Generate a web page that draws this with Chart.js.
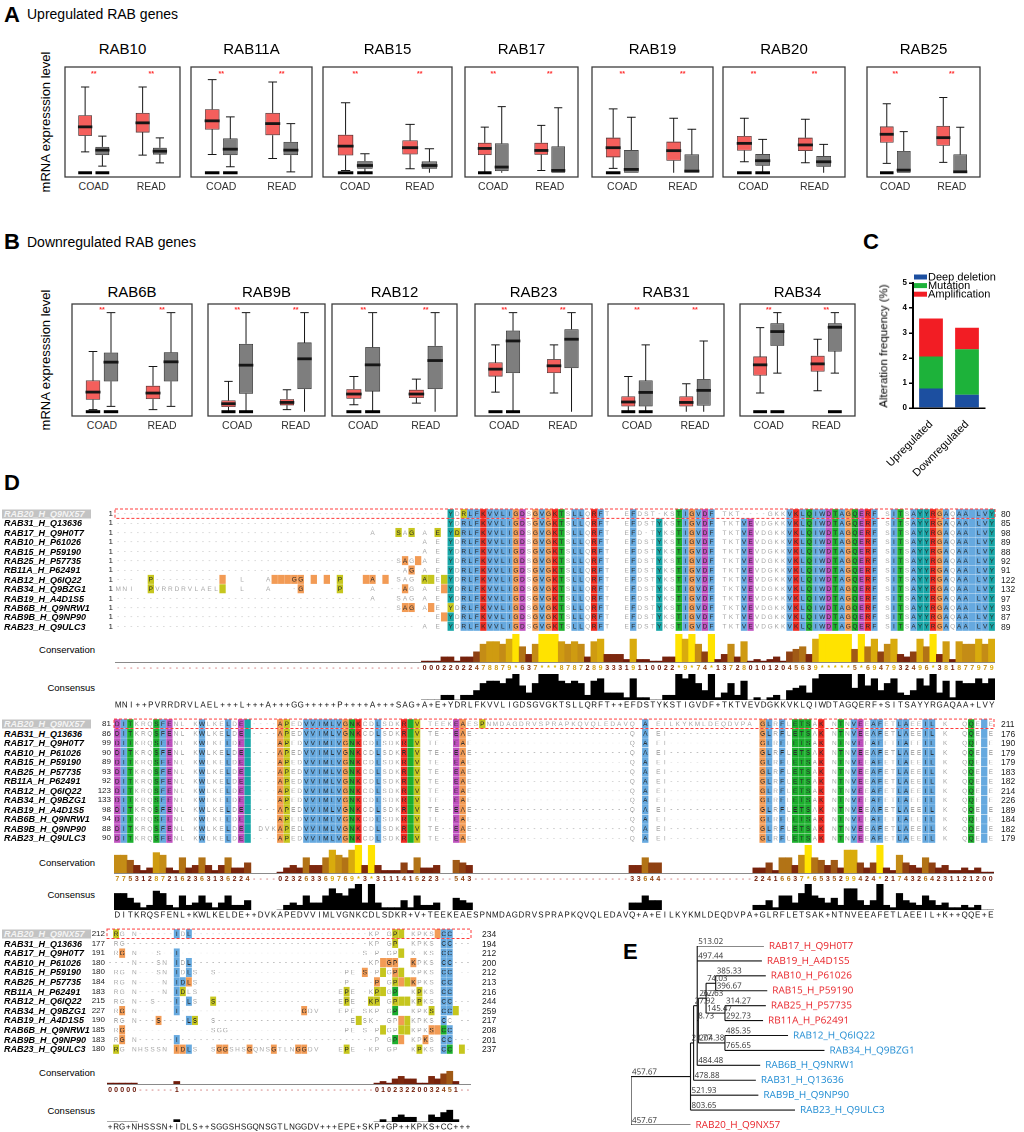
<!DOCTYPE html>
<html>
<head>
<meta charset="utf-8">
<title>RAB genes</title>
<script src="https://cdn.jsdelivr.net/npm/chart.js@4.4.1/dist/chart.umd.min.js"></script>
<style>
html,body{margin:0;padding:0;background:#fff;}
#page{position:relative;width:1024px;height:1132px;overflow:hidden;background:#fff;}
#page canvas{position:absolute;}
</style>
</head>
<body>
<div id="page"></div>
<script>
// ================= DATA =================
const cohorts = ["COAD", "READ"];

// Panel A (values in % of panel height above zero line): [low, q1, median, q3, high]
const upGenes = ["RAB10", "RAB11A", "RAB15", "RAB17", "RAB19", "RAB20", "RAB25"];
const upTumorCOAD = [
  [19.8, 34.9, 43.4, 54.4, 81.1], [17.3, 40.9, 49.1, 60.1, 88.1], [2.2, 16.4, 25.2, 36.0, 66.2],
  [0, 16.7, 23.0, 28.4, 43.2], [4.1, 14.6, 23.7, 33.2, 60.4], [10.4, 20.9, 27.8, 34.8, 51.6],
  [8.9, 28.5, 36.4, 43.7, 65.2]];
const upNormalCOAD = [
  [6.3, 16.7, 21.4, 24.5, 34.6], [5.7, 16.7, 22.3, 32.4, 52.8], [0, 3.8, 6.9, 11.0, 18.0],
  [0, 1.6, 5.4, 27.8, 62.5], [0, 0, 3.2, 21.5, 52.5], [0, 6.6, 11.4, 17.7, 31.6],
  [0, 0, 2.5, 20.6, 38.9]];
const upTumorREAD = [
  [16.7, 38.1, 47.2, 56.6, 81.1], [13.5, 35.5, 46.5, 56.6, 85.8], [3.8, 17.4, 23.7, 30.6, 45.7],
  [2.2, 17.0, 21.1, 28.4, 44.8], [0, 11.4, 20.9, 29.4, 51.6], [9.5, 20.6, 26.3, 33.2, 50.6],
  [9.8, 25.6, 33.2, 44.3, 71.2]];
const upNormalREAD = [
  [9.4, 17.3, 20.4, 23.6, 33.0], [0.9, 16.7, 21.4, 29.2, 46.5], [0, 3.8, 6.9, 10.7, 22.7],
  [0, 0, 2.2, 24.9, 61.5], [0, 0, 1.6, 17.4, 41.1], [0, 5.7, 10.4, 15.8, 26.9],
  [0, 0, 0.9, 17.4, 43.0]];
const upZeroBars = [[1,1,0,0],[1,1,0,0],[1,1,0,0],[1,0,0,0],[1,0,0,0],[1,1,0,0],[1,0,0,0]];

// Panel B
const downGenes = ["RAB6B", "RAB9B", "RAB12", "RAB23", "RAB31", "RAB34"];
const downTumorCOAD = [
  [1.9, 11.1, 18.2, 29.0, 55.9], [0.3, 4.3, 7.4, 10.5, 28.1], [6.5, 12.0, 16.4, 21.0, 32.7],
  [18.2, 32.7, 39.5, 45.7, 62.0], [0, 4.9, 9.0, 14.2, 32.7], [17.3, 33.6, 43.5, 51.2, 78.1]];
const downNormalCOAD = [
  [4.9, 28.1, 46.0, 54.9, 92.0], [0, 16.7, 43.2, 63.0, 92.0], [0, 18.8, 43.5, 59.9, 92.0],
  [0, 35.8, 65.7, 75.3, 92.0], [0, 4.9, 17.9, 29.0, 62.0], [35.8, 61.1, 74.4, 82.1, 92.0]];
const downTumorREAD = [
  [1.9, 11.7, 17.3, 24.1, 42.0], [1.9, 5.9, 8.6, 11.7, 20.4], [8.0, 12.7, 16.4, 20.4, 30.2],
  [17.3, 35.8, 42.6, 48.8, 62.0], [0, 4.9, 8.6, 14.2, 25.9], [19.4, 37.3, 44.4, 51.9, 67.3]];
const downNormalREAD = [
  [4.9, 28.1, 46.3, 55.2, 92.0], [0, 21.0, 49.1, 64.2, 92.0], [0, 21.0, 47.5, 61.1, 92.0],
  [0, 40.4, 67.3, 76.5, 92.0], [0, 5.6, 19.8, 30.2, 65.7], [35.8, 55.9, 78.4, 82.1, 92.0]];
const downZeroBars = [[1,1,0,0],[1,1,0,0],[1,1,0,0],[1,1,0,0],[1,1,0,0],[1,1,0,1]];

// Panel C
const altCategories = ["Upregulated", "Downregulated"];
const deepDeletion = [0.78, 0.53];
const mutation = [1.28, 1.82];
const amplification = [1.52, 0.86];

// Panel D
const seqNames = ["RAB20_H_Q9NX57","RAB31_H_Q13636","RAB17_H_Q9H0T7","RAB10_H_P61026","RAB15_H_P59190",
  "RAB25_H_P57735","RB11A_H_P62491","RAB12_H_Q6IQ22","RAB34_H_Q9BZG1","RAB19_H_A4D1S5",
  "RAB6B_H_Q9NRW1","RAB9B_H_Q9NP90","RAB23_H_Q9ULC3"];
const block1Start = [1,1,1,1,1,1,1,1,1,1,1,1,1];
const block1End = [80,85,98,89,88,92,91,122,132,97,93,87,89];
const block2Start = [81,86,99,90,89,93,92,123,133,98,94,88,90];
const block2End = [211,176,190,179,179,183,182,214,226,189,184,182,179];
const block3Start = [212,177,191,180,180,184,183,215,227,190,185,183,180];
const block3End = [234,194,212,200,212,213,216,244,259,217,208,201,237];

const consensus1 = "MNI++PVRRDRVLAEL+++L+++A+++GG+++++P++++A+++SAG+A+E+YDRLFKVVLIGDSGVGKTSLLQRFT++EFDSTYKSTIGVDF+TKTVEVDGKKVKLQIWDTAGQERF+SITSAYYRGAQAA+LVY";
const consensus2 = "DITKRQSFENL+KWLKELDE++DVKAPEDVVIMLVGNKCDLSDKR+V+TEEKEAESPNMDAGDRVSPRAPKQVQLEDAVQ+A+EILKYKMLDEQDVPA+GLRFLETSAK+NTNVEEAFETLAEEIL+K++QQE+E";
const consensus3 = "+RG+NHSSSN+IDLS++SGGSHSGQNSGTLNGGDV+++EPE+SKP+GP++KPKS+CC+++";

const conservation1 = "-47|00022022478879*637***878728933319110022*9*74*1372801012045639*****5*6947932496*381877979";
const conservation2 = "775312872162363136224|-4|023263369769*3*3111416223|-2|543|-24|33644|-14|22416637*6535299424*21743264231121200";
const conservation3 = "00000|-6|1|-32|01023220032451|-2";

// column colour classes (b blue, r red, g green, o orange, y olive, m magenta, c cyan, . none)
const block1ColumnColors = ".........." + ".........." + ".........." + ".........." + ".........." +
  ".c.bbbrbbb" + "bom.oborg." + "bb.rb....b" + "...c..gbob" + "mb....bm.." + "...brbgbbm" +
  "gbogmrb..b" + "g.bccrob.b" + "bbbbc";
const block1RowFirstCol = [50,50,36,46,47,43,44,3,0,38,42,48,46];
const block1RowGaps = [[83,96,97,98,99],[],[81],[],[],[],[],[6,7,8,9,10,11,12,13,14,15],[27,42,43],[],[],[],[]];
const block1RowExtras = [
  [0,53,"y"],[2,43,"y"],[2,45,"y"],[2,49,"y"],[2,52,"y"],[5,44,"o"],[5,46,"o"],[6,45,"o"],
  [7,5,"y"],[7,16,"o"],[7,24,"o"],[7,25,"o"],[7,26,"o"],[7,27,"o"],[7,28,"o"],[7,30,"o"],[7,32,"o"],
  [7,34,"y"],[7,38,"o"],[7,39,"o"],[7,41,"o"],[7,47,"y"],[7,48,"y"],[7,50,"y"],
  [8,5,"y"],[8,16,"y"],[8,28,"o"],[8,34,"y"],[8,44,"o"],[8,50,"o"],
  [10,44,"o"],[10,45,"o"],[10,48,"o"],[10,51,"y"],[11,50,"o"]];

const block2ColumnColors = "mbg...gbm." + "...b...b.m" + "c....oy..b" + "bbbbbogr.." + "b...rgy..." +
  "..mo..y..." + ".........." + ".........." + ".b........" + ".........o" + "b.b.ggg.r." +
  ".g.bm.bb.." + "bb..bb...." + ".g.b.";
const block2GenericRanges = [[0,20],[25,49],[52,54],[79,84],[98,134]];
const block2RowRanges = [[[0,20],[25,134]], block2GenericRanges, block2GenericRanges, block2GenericRanges,
  block2GenericRanges, block2GenericRanges, block2GenericRanges, block2GenericRanges, block2GenericRanges,
  block2GenericRanges, block2GenericRanges, [[0,49],[52,54],[79,84],[98,134]], block2GenericRanges];

const block3Rows = [
  "xyxxx|-6|bxb|-29|xxxxyyxxxxxobbx|-2",
  "xxx|-38|x-xxxxyxxxxxxxbb|-3",
  "xxoxx|-3|x|-2|b|-30|x-xxxxyxx-xxxbbxx|-1",
  "-4|x|-3|xxxbxb|-29|xxoooxxoxxxxbb|-3",
  "xxxxx|-3|xxxbxbxxxx|-21|xxxo-xyxoyxxxxxxbbx|-2",
  "xxxxx|-4|xxbboxxx|-22|x|-4|oxxyoyoxxxxbbxxx",
  "xxxxx|-4|xxbyxxxx|-21|xyxx-xyyxgxxxyxxxbbxxx",
  "xxxxx|-2|x|-3|b|-1|bxxxy|-20|xyxx-yyxxyyyxyxxxbb|-3",
  "xxoxx|-5|xb|-20|oxxxxxxxxxxxxxxgxxxxxyxbby|-2",
  "xxxxx|-3|o|-4|byxxx|-22|xyxx-xxxoyxxxxxbxx|-2",
  "xxo|-14|xxx|-19|xxxx-xyxxyyxxxoogbx|-2",
  "xxoxx|-6|b|-32|xxxgoxxxoxxbb|-3",
  "xyxxxxxxxxxoobxxxxooxxxoxxxoxxxooxxxxxxyxx|-1|xxxxxxxxyxxxbgxy|-1"];

// Panel E tree
const treeLeaves = ["RAB17_H_Q9H0T7","RAB19_H_A4D1S5","RAB10_H_P61026","RAB15_H_P59190","RAB25_H_P57735",
  "RB11A_H_P62491","RAB12_H_Q6IQ22","RAB34_H_Q9BZG1","RAB6B_H_Q9NRW1","RAB31_H_Q13636",
  "RAB9B_H_Q9NP90","RAB23_H_Q9ULC3","RAB20_H_Q9NX57"];
const leafLength = [513.02,497.44,385.33,396.67,314.27,292.73,485.35,765.65,484.48,478.88,521.93,803.65,457.67];
const leafParent = ["N3","N3","N7","N7","N8","N8","N5","N5","N3","N2","N1","N1","N0"];
const leafGroup = ["up","up","up","up","up","up","down","down","down","down","down","down","up"];
const treeNodes = ["N1","N2","N3","N4","N5","N6","N6b","N7","N8"];
const nodeLength = [457.67,23.77,27.92,8.73,204.38,26.7,32.63,74.03,145.47];
const nodeParent = ["N0","N1","N2","N3","N4","N4","N6","N6b","N6b"];

// ================= RENDERING =================
const SANS = '"Liberation Sans", Arial, Helvetica, sans-serif';
const NARROW = '"Liberation Sans Narrow", "Liberation Sans", Arial, sans-serif';
const OPEN = '"Open Sans", "Liberation Sans", sans-serif';
const page = document.getElementById('page');

function T(str, x, y, o) {
  o = o || {};
  const d = document.createElement('div');
  d.textContent = str;
  d.style.cssText = 'position:absolute;white-space:nowrap;line-height:1;left:' + x + 'px;top:' + y + 'px;' +
    'font-family:' + (o.family || SANS) + ';font-size:' + (o.size || 10) + 'px;color:' + (o.color || '#000') +
    ';font-weight:' + (o.weight || 'normal') + ';font-style:' + (o.style || 'normal') + ';';
  const ax = o.anchor === 'c' ? '-50%' : (o.anchor === 'r' ? '-100%' : '0');
  d.style.transform = 'translate(' + ax + ',-50%)' + (o.rot ? ' rotate(' + o.rot + 'deg)' : '');
  if (o.bg) { d.style.background = o.bg; d.style.padding = o.pad || '0'; }
  page.appendChild(d);
  return d;
}
function mkCanvas(x, y, w, h) {
  const c = document.createElement('canvas');
  c.width = w; c.height = h;
  c.style.left = x + 'px'; c.style.top = y + 'px';
  c.style.width = w + 'px'; c.style.height = h + 'px';
  page.appendChild(c);
  return c;
}
const BASE = { responsive: false, animation: false, devicePixelRatio: 2, events: [],
  plugins: { legend: { display: false }, tooltip: { enabled: false }, title: { display: false } } };
function rle(s) { return s.split('|').map(t => /^-\d+$/.test(t) ? '-'.repeat(+t.slice(1)) : t).join(''); }
function fit(s, n, ch) { return s.padEnd(n, ch).slice(0, n); }

// ---------- headings ----------
T('A', 4, 15, { size: 22, weight: 'bold' });
T('Upregulated RAB genes', 27, 14, { size: 14 });
T('B', 4, 242, { size: 22, weight: 'bold' });
T('Downregulated RAB genes', 27, 242, { size: 14 });
T('C', 863, 242, { size: 22, weight: 'bold' });
T('D', 4, 483, { size: 22, weight: 'bold' });
T('E', 623, 952, { size: 22, weight: 'bold' });
T('mRNA expresssion level', 45, 122, { size: 13, anchor: 'c', rot: -90 });
T('mRNA expresssion level', 45, 360, { size: 13, anchor: 'c', rot: -90 });

// ---------- box plots ----------
const boxPlugin = {
  id: 'boxExtras',
  afterDatasetsDraw(chart) {
    const ctx = chart.ctx, ys = chart.scales.y, a = chart.chartArea;
    const py = v => ys.getPixelForValue(v);
    ctx.save();
    chart.data.datasets.forEach((ds, di) => {
      chart.getDatasetMeta(di).data.forEach((el, i) => {
        const s = ds.stats[i], x = el.x, w = el.width;
        ctx.strokeStyle = '#161616'; ctx.lineWidth = 1;
        ctx.beginPath();
        ctx.moveTo(x, py(s[3])); ctx.lineTo(x, py(s[4]));
        ctx.moveTo(x, py(s[1])); ctx.lineTo(x, py(s[0]));
        ctx.moveTo(x - w * 0.3, py(s[4])); ctx.lineTo(x + w * 0.3, py(s[4]));
        if (s[0] > 0) { ctx.moveTo(x - w * 0.3, py(s[0])); ctx.lineTo(x + w * 0.3, py(s[0])); }
        ctx.stroke();
        ctx.lineWidth = 2.8;
        ctx.beginPath(); ctx.moveTo(x - w * 0.52, py(s[2])); ctx.lineTo(x + w * 0.52, py(s[2])); ctx.stroke();
        if (ds.zeroBar[i]) { ctx.fillStyle = '#000'; ctx.fillRect(x - w / 2, py(0) - 1.5, w, 3); }
      });
    });
    ctx.strokeStyle = '#3c3c3c'; ctx.lineWidth = 1.3;
    ctx.strokeRect(a.left, a.top, a.right - a.left, a.bottom - a.top);
    ctx.restore();
  }
};
function boxPanel(gene, l, r, top, bot, tC, nC, tR, nR, zeros, titleY, labelY, starY) {
  const pad = 2, w = r - l, h = bot - top;
  const c = mkCanvas(l - pad, top - pad, w + 2 * pad, h + 2 * pad);
  const common = { borderWidth: 0.8, borderSkipped: false, categoryPercentage: 0.6, barPercentage: 0.8 };
  new Chart(c, {
    type: 'bar',
    data: { labels: cohorts, datasets: [
      Object.assign({ data: [[tC[1], tC[3]], [tR[1], tR[3]]], stats: [tC, tR], zeroBar: [zeros[0], zeros[2]],
        backgroundColor: '#f45f5c', borderColor: '#4a3030' }, common),
      Object.assign({ data: [[nC[1], nC[3]], [nR[1], nR[3]]], stats: [nC, nR], zeroBar: [zeros[1], zeros[3]],
        backgroundColor: '#7e7e7e', borderColor: '#2e2e2e' }, common)
    ] },
    options: Object.assign({}, BASE, { layout: { padding: pad },
      scales: { x: { display: false }, y: { display: false, min: -4, max: 100 } } }),
    plugins: [boxPlugin]
  });
  T(gene, l + w / 2, titleY, { size: 15, anchor: 'c' });
  cohorts.forEach((lab, i) => {
    const x = l + w * (0.25 + 0.5 * i);
    T(lab, x, labelY, { size: 10.5, anchor: 'c', family: NARROW, color: '#333' });
    T('**', x, starY, { size: 7, anchor: 'c', color: '#ff2d2d', weight: 'bold' });
  });
}
const upFrames = [[65,180],[191,312],[323,452],[465,578],[592,713],[723,845],[867,980]];
upGenes.forEach((g, i) => boxPanel(g, upFrames[i][0], upFrames[i][1], 67, 177,
  upTumorCOAD[i], upNormalCOAD[i], upTumorREAD[i], upNormalREAD[i], upZeroBars[i], 48, 186, 73));
const downFrames = [[72,192],[208,325],[332,457],[475,592],[608,724],[740,855]];
downGenes.forEach((g, i) => boxPanel(g, downFrames[i][0], downFrames[i][1], 304, 416,
  downTumorCOAD[i], downNormalCOAD[i], downTumorREAD[i], downNormalREAD[i], downZeroBars[i], 291, 425, 309));

// ---------- panel C ----------
const legendPlugin = {
  id: 'altLegend',
  afterDraw(chart) {
    const ctx = chart.ctx, a = chart.chartArea;
    ctx.save(); ctx.font = '11px ' + SANS; ctx.textBaseline = 'middle';
    chart.data.datasets.forEach((ds, i) => {
      const y = a.top - 6 + i * 8.6;
      ctx.fillStyle = ds.backgroundColor; ctx.fillRect(a.left + 1, y - 2.5, 13, 5);
      ctx.fillStyle = '#000'; ctx.fillText(ds.label, a.left + 15, y + 0.5);
    });
    ctx.restore();
  }
};
new Chart(mkCanvas(860, 270, 140, 210), {
  type: 'bar',
  data: { labels: altCategories, datasets: [
    { label: 'Deep deletion', data: deepDeletion, backgroundColor: '#1c4fa0' },
    { label: 'Mutation', data: mutation, backgroundColor: '#1db23a' },
    { label: 'Amplification', data: amplification, backgroundColor: '#f21d24' }
  ].map(d => Object.assign(d, { barPercentage: 0.66, categoryPercentage: 1 })) },
  options: Object.assign({}, BASE, {
    layout: { padding: { top: 13, right: 15, left: 0, bottom: 0 } },
    scales: {
      x: { stacked: true, grid: { display: false }, border: { display: true, color: '#000', width: 1.5 },
        ticks: { color: '#000', font: { family: SANS, size: 11 }, minRotation: 45, maxRotation: 45, padding: 2, autoSkip: false },
        afterFit(s) { s.height = 72; } },
      y: { stacked: true, min: 0, max: 5, border: { display: true, color: '#000', width: 2 },
        grid: { drawOnChartArea: false, drawTicks: true, tickLength: 4, color: '#000', lineWidth: 1.5 },
        ticks: { stepSize: 1, color: '#000', font: { family: SANS, size: 8, weight: 'bold' }, padding: 2 },
        afterFit(s) { s.width = 53; } }
    }
  }),
  plugins: [legendPlugin]
});
T('Alteration frequency (%)', 884, 346, { size: 11.5, anchor: 'c', rot: -90 });

// ---------- panel D ----------
const CLR = { b: '#66a9df', r: '#ef2b22', g: '#1caf2d', o: '#f29b55', y: '#c6c61e', m: '#bf51bf', c: '#17a6a7' };
function consColor(v) {
  if (v >= 11) return '#ffe300';
  const stops = [[0, [105, 22, 8]], [3, [125, 40, 14]], [5, [160, 90, 22]], [7, [196, 140, 22]], [10, [228, 186, 8]]];
  for (let i = 0; i < stops.length - 1; i++) {
    const [v0, c0] = stops[i], [v1, c1] = stops[i + 1];
    if (v <= v1) { const t = (v - v0) / (v1 - v0);
      return 'rgb(' + c0.map((q, j) => Math.round(q + (c1[j] - q) * t)).join(',') + ')'; }
  }
  return 'rgb(228,186,8)';
}
function digitColor(ch) {
  if (ch === '-') return '#d07a7a';
  if (ch === '*') return '#d9b400';
  return consColor(+ch);
}
const blocks = [
  { x: 115, top: 509.3, rowH: 9.4, colW: 6.52, n: 135, consLabelY: 650, consBase: 662, consenLabelY: 688,
    consenBase: 700, leftNumX: 113, rightNumX: 1001, cons: consensus1, digits: conservation1,
    starts: block1Start, ends: block1End },
  { x: 114, top: 719.25, rowH: 9.5, colW: 6.52, n: 135, consLabelY: 863, consBase: 873, consenLabelY: 895,
    consenBase: 910, leftNumX: 111, rightNumX: 1001, cons: consensus2, digits: conservation2,
    starts: block2Start, ends: block2End },
  { x: 107, top: 929.2, rowH: 9.6, colW: 6.07, n: 60, consLabelY: 1073, consBase: 1084, consenLabelY: 1111,
    consenBase: 1122, leftNumX: 105, rightNumX: 482, cons: consensus3, digits: conservation3,
    starts: block3Start, ends: block3End }
];
const extras1 = {};
block1RowExtras.forEach(([r, k, c]) => { extras1[r + ':' + k] = c; });
const rows3 = block3Rows.map(s => fit(rle(s), 60, '-'));
blocks[0].hasRes = (r, k) => k >= block1RowFirstCol[r] && block1RowGaps[r].indexOf(k) < 0;
blocks[0].color = (r, k) => { const e = extras1[r + ':' + k]; if (e) return e; const c = block1ColumnColors[k]; return c === '.' ? null : c; };
blocks[1].hasRes = (r, k) => block2RowRanges[r].some(([a, b]) => k >= a && k <= b);
blocks[1].color = (r, k) => { const c = block2ColumnColors[k]; return c === '.' ? null : c; };
blocks[2].hasRes = (r, k) => rows3[r][k] !== '-';
blocks[2].color = (r, k) => { const c = rows3[r][k]; return (c === 'x' || c === '-') ? null : c; };

blocks.forEach((B, bi) => {
  const n = B.n, nr = seqNames.length, w = Math.round(n * B.colW), h = nr * B.rowH;
  const labels = Array.from({ length: n }, (_, i) => String(i));
  const cons = fit(B.cons, n, '+');
  // alignment cells
  const datasets = [];
  for (let r = 0; r < nr; r++) {
    const data = [], bg = [];
    for (let k = 0; k < n; k++) {
      const key = B.hasRes(r, k) ? B.color(r, k) : null;
      data.push(key ? [r - 0.48, r + 0.48] : null);
      bg.push(key ? CLR[key] : 'rgba(0,0,0,0)');
    }
    datasets.push({ data, backgroundColor: bg, grouped: false, barPercentage: 0.97, categoryPercentage: 1, borderWidth: 0 });
  }
  new Chart(mkCanvas(B.x - 2, B.top - 2, w + 4, h + 4), {
    type: 'bar', data: { labels, datasets },
    options: Object.assign({}, BASE, { layout: { padding: 2 },
      scales: { x: { display: false }, y: { display: false, min: -0.5, max: nr - 0.5, reverse: true } } }),
    plugins: [{ id: 'alnText', afterDatasetsDraw(chart) {
      const ctx = chart.ctx, xs = chart.scales.x, ys = chart.scales.y, a = chart.chartArea;
      ctx.save(); ctx.textAlign = 'center'; ctx.textBaseline = 'middle'; ctx.font = '6.5px ' + SANS;
      for (let r = 0; r < nr; r++) for (let k = 0; k < n; k++) {
        const x = xs.getPixelForValue(k), y = ys.getPixelForValue(r);
        if (!B.hasRes(r, k)) { ctx.fillStyle = '#b9b9b9'; ctx.fillText('-', x, y); }
        else { const L = cons[k]; if (L !== '+') { ctx.fillStyle = B.color(r, k) ? '#2b2b2b' : '#a6a6a6'; ctx.fillText(L, x, y + 0.5); } }
      }
      const y0 = ys.getPixelForValue(-0.5), y1 = ys.getPixelForValue(0.5);
      ctx.strokeStyle = '#ff3b3b'; ctx.lineWidth = 1; ctx.setLineDash([3, 2]);
      ctx.strokeRect(a.left, y0, a.right - a.left, y1 - y0);
      ctx.restore();
    } }]
  });
  // names & numbers
  seqNames.forEach((nm, r) => {
    const y = B.top + (r + 0.5) * B.rowH;
    if (r === 0) T(nm, 2, y, { size: 9, weight: 'bold', style: 'italic', color: '#f4f4f4', bg: '#c3c3c3', pad: '0 6px 0 2px' });
    else T(nm, 4, y, { size: 9, weight: 'bold', style: 'italic' });
    T(String(B.starts[r]), B.leftNumX, y, { size: 8, anchor: 'r', color: '#222' });
    T(String(B.ends[r]), B.rightNumX, y, { size: 8.5, color: '#222' });
  });
  T('Conservation', 95, B.consLabelY, { size: 9.5, anchor: 'r' });
  T('Consensus', 95, B.consenLabelY, { size: 9.5, anchor: 'r' });
  // conservation bars
  const dig = fit(rle(B.digits), n, '-');
  const vals = dig.split('').map(ch => ch === '-' ? null : (ch === '*' ? 11 : +ch));
  new Chart(mkCanvas(B.x, B.consBase - 28, w, 28 + 12), {
    type: 'bar',
    data: { labels, datasets: [{ data: vals.map(v => v === null ? null : Math.max(v, 0.35)),
      backgroundColor: vals.map(v => v === null ? 'rgba(0,0,0,0)' : consColor(v)),
      barPercentage: 1, categoryPercentage: 1, borderWidth: 0 }] },
    options: Object.assign({}, BASE, { layout: { padding: { bottom: 12 } },
      scales: { x: { display: false }, y: { display: false, min: 0, max: 11 } } }),
    plugins: [{ id: 'digits', afterDatasetsDraw(chart) {
      const ctx = chart.ctx, xs = chart.scales.x, a = chart.chartArea;
      ctx.save();
      ctx.strokeStyle = '#8a8a8a'; ctx.lineWidth = 1;
      ctx.beginPath(); ctx.moveTo(a.left, a.bottom + 0.5); ctx.lineTo(a.right, a.bottom + 0.5); ctx.stroke();
      ctx.textAlign = 'center'; ctx.textBaseline = 'middle'; ctx.font = 'bold 7px ' + SANS;
      for (let k = 0; k < n; k++) { ctx.fillStyle = digitColor(dig[k]); ctx.fillText(dig[k], xs.getPixelForValue(k), a.bottom + 6); }
      ctx.restore();
    } }]
  });
  // consensus bars + consensus sequence
  new Chart(mkCanvas(B.x, B.consenBase - 26, w, 26 + 11), {
    type: 'bar',
    data: { labels, datasets: [{ data: vals.map(v => v === null ? null : v), backgroundColor: '#000',
      barPercentage: 1, categoryPercentage: 1, borderWidth: 0 }] },
    options: Object.assign({}, BASE, { layout: { padding: { bottom: 11 } },
      scales: { x: { display: false }, y: { display: false, min: 0, max: 11 } } }),
    plugins: [{ id: 'consSeq', afterDatasetsDraw(chart) {
      const ctx = chart.ctx, xs = chart.scales.x, a = chart.chartArea;
      ctx.save(); ctx.textAlign = 'center'; ctx.textBaseline = 'middle'; ctx.font = '8px ' + SANS; ctx.fillStyle = '#111';
      for (let k = 0; k < n; k++) ctx.fillText(cons[k], xs.getPixelForValue(k), a.bottom + 5.5);
      ctx.restore();
    } }]
  });
});

// ---------- panel E ----------
(function () {
  const X = { N0: 0 }, Y = {}, kids = { N0: [] }, parentOf = {};
  treeNodes.forEach(id => { kids[id] = []; });
  treeNodes.forEach((id, i) => { X[id] = X[nodeParent[i]] + nodeLength[i]; kids[nodeParent[i]].push(id); parentOf[id] = [nodeParent[i], nodeLength[i]]; });
  treeLeaves.forEach((id, i) => { X[id] = X[leafParent[i]] + leafLength[i]; Y[id] = i; kids[leafParent[i]].push(id); parentOf[id] = [leafParent[i], leafLength[i]]; });
  treeNodes.slice().reverse().concat(['N0']).forEach(id => {
    const ys = kids[id].map(k => Y[k]); Y[id] = (Math.min(...ys) + Math.max(...ys)) / 2;
  });
  const segs = [];
  Object.keys(parentOf).forEach(id => { const p = parentOf[id][0]; segs.push([{ x: X[p], y: Y[id] }, { x: X[id], y: Y[id] }]); });
  Object.keys(kids).forEach(id => { const ys = kids[id].map(k => Y[k]); segs.push([{ x: X[id], y: Math.min(...ys) }, { x: X[id], y: Math.max(...ys) }]); });
  new Chart(mkCanvas(600, 930, 424, 202), {
    type: 'scatter',
    data: { datasets: segs.map(s => ({ data: s, showLine: true, borderColor: '#111', borderWidth: 1.1, pointRadius: 0 })) },
    options: Object.assign({}, BASE, { layout: { padding: { left: 31, top: 16, right: 4, bottom: 7 } },
      scales: { x: { type: 'linear', display: false, min: 0, max: 2992 },
                y: { type: 'linear', display: false, min: 0, max: treeLeaves.length - 1, reverse: true } } }),
    plugins: [{ id: 'treeText', afterDatasetsDraw(chart) {
      const ctx = chart.ctx, xs = chart.scales.x, ys = chart.scales.y;
      ctx.save();
      ctx.font = '8px ' + OPEN; ctx.fillStyle = '#333'; ctx.textBaseline = 'bottom'; ctx.textAlign = 'left';
      Object.keys(parentOf).forEach(id => {
        const [p, len] = parentOf[id];
        ctx.fillText(String(len), xs.getPixelForValue(X[p]) + 1, ys.getPixelForValue(Y[id]) - 0.5);
      });
      ctx.font = '10px ' + OPEN; ctx.textBaseline = 'middle';
      treeLeaves.forEach((id, i) => {
        ctx.fillStyle = leafGroup[i] === 'up' ? '#e8242a' : '#1e8bd2';
        ctx.fillText(id, xs.getPixelForValue(X[id]) + 5, ys.getPixelForValue(Y[id]));
      });
      ctx.restore();
    } }]
  });
})();
</script>
</body>
</html>
